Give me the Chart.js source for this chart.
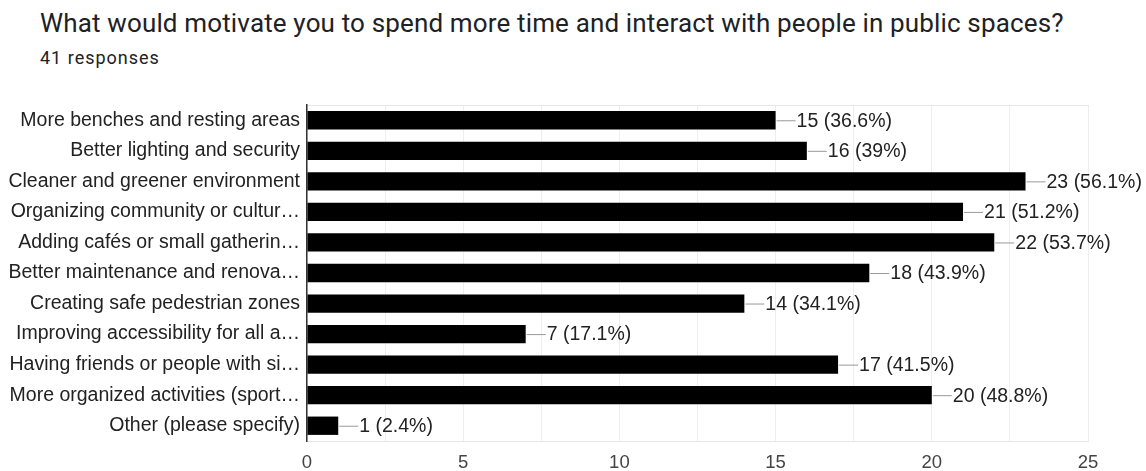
<!DOCTYPE html>
<html>
<head>
<meta charset="utf-8">
<script src="https://cdn.jsdelivr.net/npm/chart.js@4"></script>
<style>
  body { margin: 0; background: #fff; font-family: Roboto, sans-serif; }
  #wrap { position: relative; width: 1146px; height: 471px; }
  #title { position: absolute; left: 40px; top: 10px; font-size: 26px; line-height: 1; color: #202124; white-space: nowrap; letter-spacing: 0.15px; }
  #sub { position: absolute; left: 40px; top: 49px; font-size: 18px; line-height: 1; color: #202124; letter-spacing: 1px; }
  canvas { position: absolute; left: 0; top: 0; }
</style>
</head>
<body>
<div id="wrap">
  <div id="title">What would motivate you to spend more time and interact with people in public spaces?</div>
  <div id="sub">41 responses</div>
  <canvas id="chart" width="1146" height="471"></canvas>
</div>
<script>
// Answer options (as truncated in the reference)
const categories = [
    'More benches and resting areas',
    'Better lighting and security',
    'Cleaner and greener environment',
    'Organizing community or cultur\u2026',
    'Adding caf\u00e9s or small gatherin\u2026',
    'Better maintenance and renova\u2026',
    'Creating safe pedestrian zones',
    'Improving accessibility for all a\u2026',
    'Having friends or people with si\u2026',
    'More organized activities (sport\u2026',
    'Other (please specify)'
];

// Response counts and shares
const counts = [15, 16, 23, 21, 22, 18, 14, 7, 17, 20, 1];
const percents = ['36.6', '39', '56.1', '51.2', '53.7', '43.9', '34.1', '17.1', '41.5', '48.8', '2.4'];

// x axis tick labels shown
const xTicks = [0, 5, 10, 15, 20, 25];

const labelFont = '"Liberation Sans", Arial, sans-serif';

// Draws the leader line + "n (p%)" label after each bar
const valueLabels = {
    id: 'valueLabels',
    afterDatasetsDraw(chart) {
        const ctx = chart.ctx;
        const meta = chart.getDatasetMeta(0);
        ctx.save();
        ctx.font = '19.5px ' + labelFont;
        ctx.textBaseline = 'middle';
        meta.data.forEach((bar, i) => {
            const x = bar.x;
            const y = bar.y;
            ctx.strokeStyle = '#999';
            ctx.lineWidth = 1;
            ctx.beginPath();
            ctx.moveTo(x + 1, y + 0.5);
            ctx.lineTo(x + 20, y + 0.5);
            ctx.stroke();
            ctx.fillStyle = '#222';
            ctx.fillText(`${counts[i]} (${percents[i]}%)`, x + 21, y + 1);
        });
        ctx.restore();
    }
};

const ctx = document.getElementById('chart').getContext('2d');
new Chart(ctx, {
    type: 'bar',
    data: {
        labels: categories,
        datasets: [{
            data: counts,
            backgroundColor: '#000',
            borderWidth: 0,
            barPercentage: 0.6,
            categoryPercentage: 1
        }]
    },
    options: {
        indexAxis: 'y',
        responsive: false,
        animation: false,
        layout: {
            padding: { left: 0, right: 58, top: 104, bottom: 0 }
        },
        plugins: {
            legend: { display: false },
            tooltip: { enabled: false }
        },
        scales: {
            x: {
                min: 0,
                max: 25,
                afterBuildTicks: (scale) => {
                    scale.ticks = [];
                    for (let v = 0; v <= 25; v += 2.5) scale.ticks.push({ value: v });
                },
                afterFit: (scale) => { scale.height = 30; },
                grid: { color: '#eeeeee', drawTicks: false },
                border: { color: '#e6e6e6' },
                ticks: {
                    padding: 11,
                    color: '#444',
                    font: { family: labelFont, size: 18.5 },
                    autoSkip: false,
                    maxRotation: 0,
                    callback: (v) => xTicks.includes(v) ? String(v) : ''
                }
            },
            x2: {
                position: 'top',
                min: 0,
                max: 25,
                afterFit: (scale) => { scale.height = 1; },
                grid: { display: false, drawTicks: false },
                border: { color: '#e6e6e6' },
                ticks: { display: false }
            },
            y: {
                afterFit: (scale) => { scale.width = 307; },
                grid: { display: false, drawTicks: false },
                border: { color: '#333', width: 1.5 },
                ticks: {
                    padding: 7,
                    color: '#222',
                    autoSkip: false,
                    font: { family: labelFont, size: 19.5 }
                }
            }
        }
    },
    plugins: [valueLabels]
});
</script>
</body>
</html>
